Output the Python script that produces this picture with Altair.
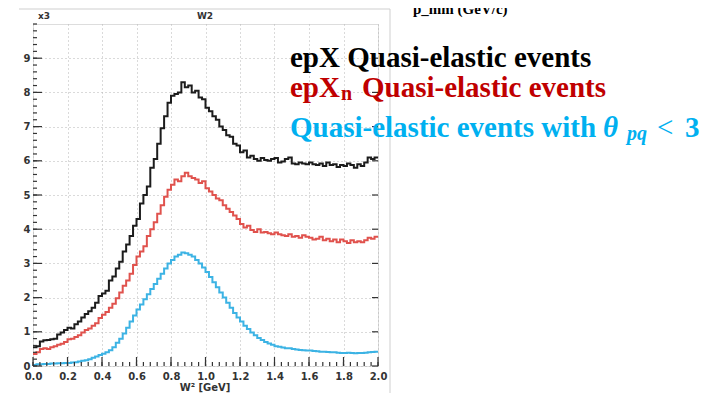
import altair as alt
import pandas as pd

# ---------------- data (100 bins, width 0.02, from 0.0 to 2.0) ----------------
bin_width = 0.02
black_epX = [
    0.55, 0.58, 0.72, 0.75, 0.76, 0.78, 0.80, 0.92, 0.98, 1.05,
    1.12, 1.10, 1.22, 1.30, 1.42, 1.52, 1.60, 1.70, 1.85, 2.05,
    2.12, 2.20, 2.50, 2.62, 2.85, 3.05, 3.35, 3.55, 3.80, 4.10,
    4.30, 4.75, 5.00, 5.25, 5.80, 6.05, 6.50, 6.95, 7.30, 7.70,
    7.90, 7.95, 8.00, 8.30, 8.15, 8.20, 8.00, 8.05, 7.85, 7.80,
    7.55, 7.45, 7.30, 7.20, 7.00, 6.90, 6.75, 6.70, 6.50, 6.45,
    6.25, 6.30, 6.10, 6.15, 6.05, 6.00, 6.08, 6.02, 6.00, 6.05,
    6.08, 5.95, 5.98, 6.05, 6.10, 5.92, 5.90, 5.95, 5.92, 5.90,
    5.95, 5.90, 5.88, 5.92, 5.85, 5.95, 5.88, 5.90, 5.82, 5.88,
    5.85, 5.92, 5.88, 5.80, 5.90, 5.85, 5.95, 6.10, 6.05, 6.10,
]
red_epXn = [
    0.35, 0.40, 0.50, 0.52, 0.50, 0.55, 0.58, 0.62, 0.65, 0.70,
    0.78, 0.80, 0.85, 0.90, 0.98, 1.05, 1.10, 1.18, 1.25, 1.40,
    1.50, 1.58, 1.70, 1.82, 1.98, 2.15, 2.35, 2.50, 2.70, 2.95,
    3.20, 3.35, 3.50, 3.80, 4.00, 4.20, 4.45, 4.70, 4.95, 5.15,
    5.30, 5.45, 5.40, 5.55, 5.65, 5.55, 5.50, 5.45, 5.35, 5.40,
    5.20, 5.10, 5.00, 4.90, 4.85, 4.70, 4.60, 4.50, 4.40, 4.30,
    4.15, 4.05, 4.10, 3.98, 3.92, 4.00, 3.90, 3.92, 3.88, 3.85,
    3.90, 3.85, 3.82, 3.80, 3.85, 3.78, 3.80, 3.75, 3.82, 3.78,
    3.75, 3.70, 3.72, 3.78, 3.68, 3.72, 3.65, 3.70, 3.62, 3.70,
    3.65, 3.60, 3.68, 3.62, 3.65, 3.62, 3.68, 3.75, 3.72, 3.78,
]
blue_theta = [
    0.03, 0.05, 0.05, 0.06, 0.06, 0.07, 0.07, 0.08, 0.08, 0.09,
    0.09, 0.10, 0.11, 0.13, 0.15, 0.17, 0.20, 0.24, 0.28, 0.32,
    0.36, 0.40, 0.46, 0.55, 0.68, 0.80, 0.95, 1.12, 1.30, 1.48,
    1.65, 1.80, 1.95, 2.10, 2.25, 2.40, 2.55, 2.70, 2.85, 3.00,
    3.10, 3.20, 3.25, 3.32, 3.30, 3.25, 3.20, 3.10, 3.00, 2.88,
    2.75, 2.60, 2.45, 2.30, 2.15, 2.00, 1.85, 1.70, 1.55, 1.42,
    1.30, 1.18, 1.08, 0.98, 0.90, 0.82, 0.76, 0.70, 0.66, 0.62,
    0.58, 0.56, 0.54, 0.52, 0.52, 0.50, 0.48, 0.47, 0.46, 0.45,
    0.45, 0.44, 0.43, 0.42, 0.42, 0.41, 0.40, 0.40, 0.39, 0.38,
    0.38, 0.39, 0.38, 0.37, 0.38, 0.38, 0.39, 0.40, 0.41, 0.42,
]
series_names = ["epX", "epXn", "theta_pq"]
series_colors = ["#1c1c1c", "#e0524d", "#3cb3e4"]

x_major = [0.0, 0.2, 0.4, 0.6, 0.8, 1.0, 1.2, 1.4, 1.6, 1.8, 2.0]
y_major = [0, 1, 2, 3, 4, 5, 6, 7, 8, 9]
x_minor = [round(i * 0.04, 2) for i in range(51)]
y_minor = [round(i * 0.2, 1) for i in range(51)]

title_text = "W2"
scale_text = "x3"
x_title = "W² [GeV]"
top_text = "p_mm (GeV/c)"

# ---------------- build table ----------------
rows = []
for name, vals in zip(series_names, [black_epX, red_epXn, blue_theta]):
    for i, v in enumerate(vals):
        rows.append({"series": name, "W2": round(i * bin_width, 2), "count": v})
    rows.append({"series": name, "W2": 2.0, "count": vals[-1]})
df = pd.DataFrame(rows)

W, H = 345, 342
xs = alt.Scale(domain=[0, 2], nice=False, zero=False)
ys = alt.Scale(domain=[0, 10], nice=False, zero=False)

axis_common = dict(
    ticks=False, domain=False, grid=True, gridColor="#b5b5b5", gridDash=[1, 3],
    gridWidth=1, labelFont="DejaVu Sans", labelFontSize=10, labelFontWeight="bold",
    labelColor="#333333", title=None, labelFlush=False, labelOverlap=False,
)
x_axis = alt.Axis(values=x_major, format=".1f", labelPadding=5, **axis_common)
y_axis = alt.Axis(values=y_major, format="d", labelPadding=3, **axis_common)

lines = alt.Chart(df).mark_line(interpolate="step-after", strokeWidth=2).encode(
    x=alt.X("W2:Q", scale=xs, axis=x_axis),
    y=alt.Y("count:Q", scale=ys, axis=y_axis),
    color=alt.Color("series:N", scale=alt.Scale(domain=series_names, range=series_colors), legend=None),
)

def tick_layer(vals, field, kind, length):
    d = pd.DataFrame({field: vals})
    base = alt.Chart(d).mark_rule(color="#333333", strokeWidth=1.2)
    if field == "xv":
        xenc = alt.X("xv:Q", scale=xs, axis=x_axis)
        if kind == "bottom":
            return base.encode(x=xenc, y=alt.value(H), y2=alt.value(H - length))
        return base.encode(x=xenc, y=alt.value(0), y2=alt.value(length))
    yenc = alt.Y("yv:Q", scale=ys, axis=y_axis)
    if kind == "left":
        return base.encode(y=yenc, x=alt.value(0), x2=alt.value(length))
    return base.encode(y=yenc, x=alt.value(W), x2=alt.value(W - length))

ticks = [
    tick_layer(x_major, "xv", "bottom", 9),
    tick_layer(x_minor, "xv", "bottom", 4),
    tick_layer(y_major, "yv", "left", 9),
    tick_layer(y_minor, "yv", "left", 4),
    tick_layer(y_major, "yv", "right", 6),
]

one = pd.DataFrame({"a": [0]})

def txt(text, x, y, size, color, font="Liberation Serif", weight="bold", style="normal",
        align="left", baseline="alphabetic"):
    return alt.Chart(one).mark_text(
        text=text, font=font, fontSize=size, fontWeight=weight, fontStyle=style,
        color=color, align=align, baseline=baseline,
    ).encode(x=alt.value(x), y=alt.value(y))

texts = [
    txt(scale_text, 11, -8, 9, "#333333", font="DejaVu Sans", align="center", baseline="middle"),
    txt(title_text, 172, -8, 9, "#333333", font="DejaVu Sans", align="center", baseline="middle"),
    txt(x_title, 172, H + 25, 10, "#333333", font="DejaVu Sans", align="center", baseline="alphabetic"),
    txt(top_text, 380, -10, 15, "#000000"),
    txt("epX Quasi-elastic events", 257, 43, 29, "#000000"),
    txt("epX", 257, 73, 29, "#c00000"),
    txt("n", 308, 76, 20, "#c00000"),
    txt("Quasi-elastic events", 329, 73, 29, "#c00000"),
    txt("Quasi-elastic events with", 257, 113, 29, "#00b0f0"),
    txt("θ", 570, 113, 29, "#00b0f0", style="italic"),
    txt("pq", 594, 116, 20, "#00b0f0", style="italic"),
    txt("<", 624, 113, 29, "#00b0f0", weight="normal"),
    txt("3", 652, 113, 29, "#00b0f0"),
]

frame_lines = [
    alt.Chart(one).mark_rule(color="#cfcfcf", strokeWidth=1).encode(
        x=alt.value(-14), x2=alt.value(357), y=alt.value(-15)),
    alt.Chart(one).mark_rule(color="#cfcfcf", strokeWidth=1).encode(
        x=alt.value(357), y=alt.value(-15), y2=alt.value(372)),
]

chart = alt.layer(lines, *ticks, *frame_lines, *texts).properties(
    width=W, height=H,
    autosize=alt.AutoSizeParams(type="none"),
    padding={"left": 25, "top": 16, "right": 334, "bottom": 27},
).configure_view(stroke="#333333", strokeWidth=2).configure(background="white")

chart.save("out.html", embed_options={"renderer": "svg", "actions": False})
